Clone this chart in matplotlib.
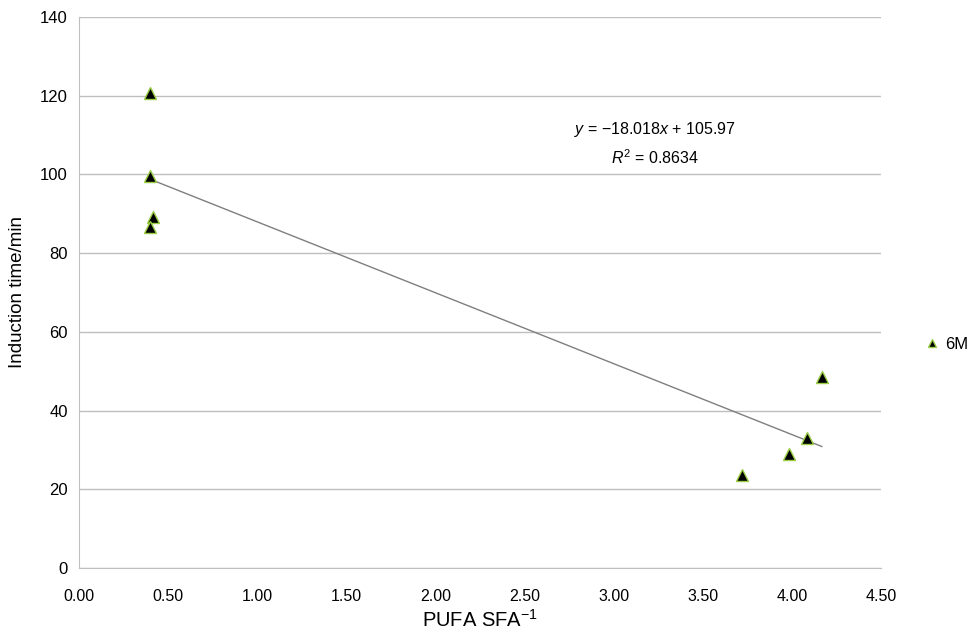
import matplotlib
matplotlib.use("Agg")
import matplotlib.pyplot as plt
import numpy as np

# PUFA/SFA ratio vs induction time, 6 month samples
pufa_sfa = [0.40, 0.40, 0.415, 0.398, 3.72, 3.984, 4.087, 4.168]
induction_time = [120.8, 99.6, 89.2, 86.6, 23.5, 28.9, 33.0, 48.6]
series_label = "6M"

slope = -18.018
intercept = 105.97
r_squared = 0.8634

x_ticks = [0.0, 0.5, 1.0, 1.5, 2.0, 2.5, 3.0, 3.5, 4.0, 4.5]
y_ticks = [0, 20, 40, 60, 80, 100, 120, 140]

plt.rcParams["font.family"] = ["Liberation Sans", "DejaVu Sans"]
plt.rcParams["mathtext.fontset"] = "custom"
plt.rcParams["mathtext.rm"] = "Liberation Sans"
plt.rcParams["mathtext.it"] = "Liberation Sans:italic"

fig = plt.figure(figsize=(9.74, 6.32), dpi=100)
ax = fig.add_axes([0.0811, 0.1013, 0.8234, 0.8718])

grid_col = "#bfbfbf"
ax.set_xlim(0, 4.5)
ax.set_ylim(0, 140)
ax.set_xticks(x_ticks)
ax.set_xticklabels([f"{t:.2f}" for t in x_ticks])
ax.set_yticks(y_ticks)
ax.yaxis.grid(True, color=grid_col, linewidth=1)
ax.set_axisbelow(True)
for side in ["top", "right"]:
    ax.spines[side].set_visible(False)
for side in ["left", "bottom"]:
    ax.spines[side].set_color(grid_col)
ax.tick_params(axis="y", length=0, labelsize=12, pad=8)
ax.tick_params(axis="x", length=0, labelsize=11.5, pad=15)

# trendline across the data range
xs = np.array([min(pufa_sfa), max(pufa_sfa)])
ax.plot(xs, slope * xs + intercept, color="#7f7f7f", linewidth=1, zorder=2)

ax.plot(pufa_sfa, induction_time, linestyle="none", marker="^", markersize=8,
        markerfacecolor="black", markeredgecolor="#9acd45", markeredgewidth=1,
        label=series_label, zorder=3)

ax.text(0.718, 0.795, "$y$ = \u221218.018$x$ + 105.97", transform=ax.transAxes,
        ha="center", va="center", fontsize=11.5)
ax.text(0.718, 0.744, "$R^2$ = 0.8634", transform=ax.transAxes,
        ha="center", va="center", fontsize=11.5)

ax.set_xlabel("PUFA SFA$^{\u22121}$", fontsize=14.5, labelpad=4)
ax.set_ylabel("Induction time/min", fontsize=13.5, labelpad=10)

ax.legend(loc="center left", bbox_to_anchor=(1.039, 0.405), frameon=False,
          fontsize=12, handlelength=0.6, handletextpad=0.5, markerscale=0.8)

fig.savefig("out.png", dpi=100)
